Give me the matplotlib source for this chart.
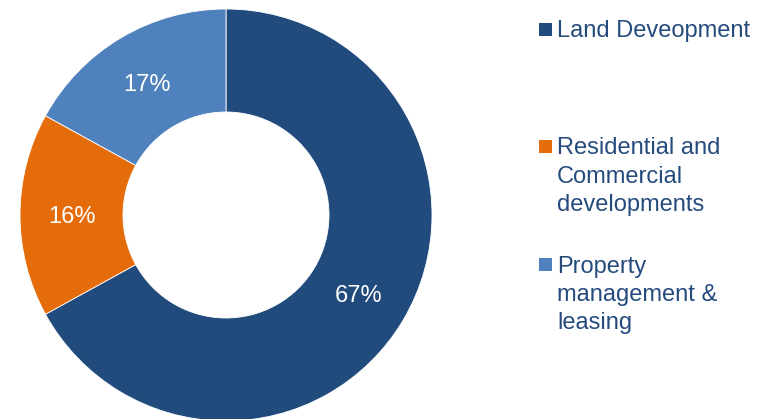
import matplotlib.pyplot as plt
from matplotlib.patches import Rectangle

plt.rcParams['font.family'] = ['Liberation Sans', 'DejaVu Sans']

# segment data
labels = ["Land Deveopment", "Residential and\nCommercial\ndevelopments", "Property\nmanagement &\nleasing"]
shares = [67, 16, 17]
colors = ["#214A7D", "#E46C0A", "#4F81BD"]
text_color = "#254B7D"

W, H = 768, 419
fig = plt.figure(figsize=(W / 100, H / 100), dpi=100)

# donut: centre (226, 215) px, radius 206 px
cx, cy, R = 226, 215, 206
ax = fig.add_axes([(cx - R) / W, (H - cy - R) / H, 2 * R / W, 2 * R / H])
wedges, texts, autotexts = ax.pie(
    shares, colors=colors, startangle=90, counterclock=False,
    autopct='%.0f%%', pctdistance=0.75,
    wedgeprops=dict(width=0.5, edgecolor='white', linewidth=0.6),
    textprops=dict(color='white', fontsize=17))
for t in autotexts:
    t.set_va('center_baseline')
ax.set_xlim(-1, 1)
ax.set_ylim(-1, 1)
ax.set_aspect('equal')
ax.axis('off')

# legend drawn by hand: top of first text line per entry (px from top)
legend_top = [22, 139, 257]
for lab, col, top in zip(labels, colors, legend_top):
    fig.patches.append(Rectangle((539 / W, 1 - (top + 14) / H), 13 / W, 13 / H,
                                 transform=fig.transFigure, facecolor=col,
                                 edgecolor='none'))
    fig.text(557 / W, 1 - (top - 1.5) / H, lab, fontsize=17, color=text_color,
             va='top', ha='left', linespacing=1.36)

fig.savefig("out.png", dpi=100)
